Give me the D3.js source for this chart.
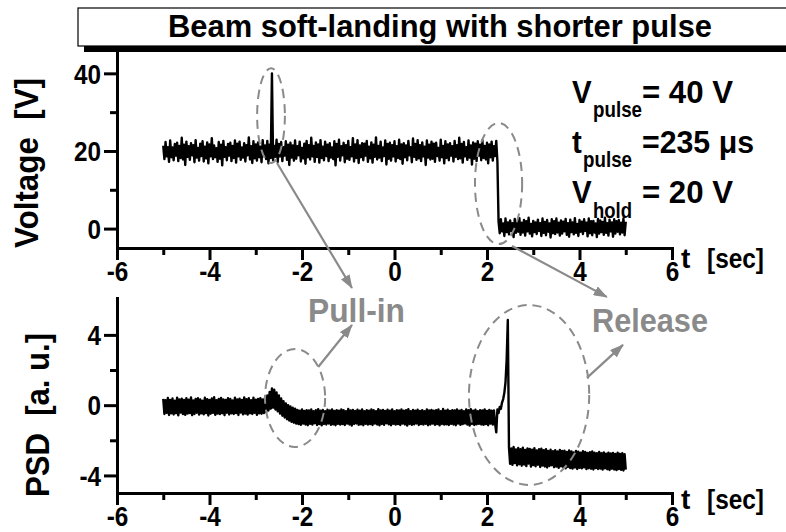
<!DOCTYPE html>
<html>
<head>
<meta charset="utf-8">
<script src="https://cdn.jsdelivr.net/npm/d3@7"></script>
<style>
  html, body { margin: 0; padding: 0; background: #fff; }
  svg { display: block; }
  text { font-family: "Liberation Sans", Arial, Helvetica, sans-serif; font-weight: bold; }
</style>
</head>
<body>
<svg id="chart" width="786" height="532"></svg>
<script>
// ---- recording grid (seconds) ----
const sampleStart = -5;      // first sample of both traces
const sampleStep = 0.025;    // spacing between samples
const holdDropTime = 2.25;   // first sample after the hold voltage is removed

// ---- drive voltage [V]: hold level with the short pull-in pulse ----
const voltageHold = [
  21.4, 17.9, 22.3, 18.6, 21.0, 17.2, 22.7, 18.4, 20.9, 17.6,
  21.8, 18.8, 22.1, 17.4, 21.3, 18.2, 23.4, 17.8, 21.6, 16.4,
  22.4, 18.5, 21.2, 17.7, 22.0, 18.9, 21.5, 17.1, 22.8, 18.3,
  20.8, 17.5, 21.9, 18.7, 22.5, 17.3, 21.1, 18.1, 22.2, 16.8,
  21.7, 18.6, 23.3, 17.9, 21.4, 18.4, 20.7, 17.2, 22.3, 18.0,
  21.6, 16.3, 22.6, 18.5, 21.0, 17.6, 21.8, 18.8, 22.1, 17.4,
  21.3, 18.2, 22.7, 17.0, 21.9, 18.6, 22.4, 17.7, 20.9, 18.3,
  22.0, 17.3, 21.5, 18.9, 23.5, 17.8, 21.2, 16.9, 22.5, 18.1,
  21.7, 17.5, 22.2, 18.4, 21.1, 17.1, 22.8, 18.7, 21.4, 17.9,
  22.6, 16.8, 21.6, 18.2, 40.0, 17.6, 21.3, 18.5, 22.9, 17.2,
  21.8, 18.6, 22.3, 17.4, 21.0, 18.8, 22.5, 17.7, 21.6, 16.4,
  22.1, 18.3, 21.4, 17.5, 22.7, 18.0, 21.2, 18.9, 22.4, 17.3,
  20.8, 18.1, 21.9, 16.7, 22.6, 18.4, 21.5, 17.8, 23.4, 18.6,
  21.3, 17.2, 22.2, 18.5, 21.7, 17.0, 22.8, 18.2, 21.1, 17.6,
  22.4, 18.7, 21.6, 17.4, 22.0, 18.3, 20.9, 17.9, 22.5, 16.3,
  21.8, 18.5, 22.9, 17.5, 21.2, 18.9, 22.1, 17.1, 21.5, 18.0,
  22.6, 17.7, 21.0, 18.6, 23.3, 17.3, 21.7, 18.2, 22.8, 16.9,
  21.4, 18.4, 22.0, 17.6, 21.9, 18.8, 22.6, 17.2, 21.1, 18.1,
  22.2, 17.0, 21.6, 18.5, 23.5, 17.8, 21.3, 18.3, 22.4, 17.4,
  20.9, 18.7, 22.7, 16.5, 21.8, 18.0, 22.1, 17.5, 21.5, 18.6,
  22.5, 17.3, 21.2, 18.2, 22.9, 17.9, 21.7, 16.7, 22.0, 18.4,
  21.4, 17.6, 22.6, 18.9, 21.0, 17.1, 23.2, 18.5, 21.8, 17.7,
  22.8, 18.1, 21.5, 17.4, 22.2, 18.6, 21.1, 16.4, 22.7, 18.3,
  21.6, 17.8, 22.4, 18.0, 21.9, 17.2, 22.1, 18.7, 20.8, 17.5,
  22.9, 18.4, 21.3, 16.8, 22.5, 18.2, 21.7, 17.6, 22.0, 18.8,
  21.2, 17.3, 22.6, 18.5, 21.5, 17.9, 23.4, 18.1, 21.8, 17.0,
  22.3, 18.6, 21.0, 17.7, 22.7, 18.3, 21.4, 16.5, 22.2, 18.0,
  21.9, 17.4, 22.5, 18.8, 21.6, 17.6, 22.8, 18.2, 21.3, 17.8,
  22.1, 16.8, 21.7, 18.4, 22.4, 17.5, 21.2, 18.7, 22.6, 17.3
];
// ---- drive voltage [V] after release ----
const voltageLow = [
  1.8, -1.2, 2.4, -0.7, 1.3, -1.9, 2.6, -0.9, 1.6, -1.5,
  2.1, -0.6, 1.4, -2.2, 2.5, -1.1, 1.7, -0.8, 2.7, -1.6,
  1.5, -1.0, 2.2, -1.8, 1.9, -0.7, 2.8, -1.3, 1.2, -2.0,
  2.0, -0.9, 1.6, -1.4, 2.3, -0.6, 1.4, -1.9, 2.6, -1.1,
  1.7, -1.7, 2.2, -0.8, 1.3, -2.3, 2.4, -1.2, 1.9, -1.4,
  2.6, -1.0, 1.5, -1.8, 2.1, -1.3, 1.8, -0.7, 2.5, -1.6,
  1.4, -2.1, 2.3, -0.9, 1.6, -1.5, 2.7, -1.1, 1.2, -1.9,
  2.2, -0.8, 1.8, -1.4, 2.4, -0.6, 1.5, -2.0, 2.6, -1.2,
  1.9, -1.7, 2.0, -1.0, 1.3, -2.2, 2.5, -1.3, 2.1, -0.9,
  1.7, -1.6, 2.8, -1.1, 1.4, -1.8, 2.3, -0.7, 1.6, -2.1,
  2.4, -1.3, 1.9, -0.8, 2.2, -1.5, 1.5, -1.0, 2.6, -1.7,
  1.8
];
// ---- position sensitive detector signal [a. u.] ----
const psdValues = [
  // before the pulse
  0.36, -0.50, 0.28, -0.44, 0.41, -0.56, 0.30, -0.47, 0.38, -0.53,
  0.25, -0.46, 0.43, -0.58, 0.33, -0.42, 0.37, -0.51, 0.29, -0.55,
  0.40, -0.48, 0.31, -0.45, 0.44, -0.57, 0.27, -0.50, 0.35, -0.43,
  0.39, -0.54, 0.32, -0.47, 0.26, -0.52, 0.42, -0.45, 0.34, -0.59,
  0.30, -0.49, 0.38, -0.44, 0.45, -0.55, 0.28, -0.48, 0.36, -0.51,
  0.41, -0.46, 0.33, -0.57, 0.29, -0.43, 0.40, -0.53, 0.35, -0.47,
  0.27, -0.50, 0.43, -0.45, 0.32, -0.56, 0.37, -0.42, 0.30, -0.52,
  0.44, -0.48, 0.34, -0.54, 0.39, -0.46, 0.28, -0.50, 0.42, -0.44,
  0.31, -0.55, 0.36, -0.47, 0.40, -0.49, 0.33, -0.45,
  // pull-in
  0.42, -0.40, 0.55, -0.30, 0.75, -0.20, 0.95, -0.15, 0.88, -0.25,
  0.72, -0.35, 0.55, -0.48, 0.38, -0.60, 0.22, -0.70, 0.10, -0.80,
  0.00, -0.88, -0.08, -0.95, -0.15, -1.00, -0.20, -1.05,
  // held down
  -0.27, -1.08, -0.31, -1.12, -0.24, -1.05, -0.33, -1.10, -0.28, -1.14,
  -0.30, -1.06, -0.25, -1.11, -0.34, -1.03, -0.29, -1.13, -0.23, -1.08,
  -0.32, -1.15, -0.27, -1.07, -0.35, -1.10, -0.26, -1.04, -0.30, -1.12,
  -0.24, -1.09, -0.33, -1.14, -0.28, -1.06, -0.31, -1.11, -0.25, -1.08,
  -0.29, -1.13, -0.34, -1.05, -0.22, -1.10, -0.30, -1.16, -0.27, -1.07,
  -0.33, -1.04, -0.26, -1.12, -0.31, -1.09, -0.24, -1.14, -0.35, -1.06,
  -0.28, -1.11, -0.32, -1.08, -0.25, -1.13, -0.29, -1.05, -0.34, -1.10,
  -0.23, -1.15, -0.30, -1.07, -0.27, -1.12, -0.33, -1.03, -0.26, -1.09,
  -0.31, -1.14, -0.24, -1.06, -0.35, -1.11, -0.28, -1.08, -0.30, -1.13,
  -0.25, -1.05, -0.32, -1.10, -0.29, -1.16, -0.23, -1.07, -0.34, -1.12,
  -0.27, -1.09, -0.31, -1.04, -0.26, -1.13, -0.33, -1.08, -0.28, -1.11,
  -0.35, -1.06, -0.24, -1.14, -0.30, -1.10, -0.27, -1.05, -0.32, -1.12,
  -0.29, -1.08, -0.25, -1.15, -0.34, -1.07, -0.22, -1.11, -0.31, -1.09,
  -0.26, -1.13, -0.33, -1.06, -0.28, -1.10, -0.30, -1.14, -0.24, -1.05,
  -0.32, -1.12, -0.27, -1.08, -0.35, -1.04, -0.25, -1.11, -0.29, -1.16,
  -0.23, -1.07, -0.31, -1.13, -0.26, -1.09, -0.34, -1.06, -0.28, -1.10,
  -0.30, -1.12, -0.24, -1.08, -0.33, -1.14, -0.27, -1.05, -0.31, -1.11,
  // release
  -0.30, -1.05, -1.55, -0.25, -0.45, -0.10, -0.20, 0.15, 0.35, 0.70,
  1.30, 2.60, 4.85,
  // after release
  -2.40, -3.34, -2.47, -3.40, -2.38, -3.30, -2.52, -3.43, -2.44, -3.36,
  -2.50, -3.45, -2.42, -3.38, -2.55, -3.47, -2.46, -3.33, -2.49, -3.50,
  -2.53, -3.41, -2.45, -3.48, -2.58, -3.39, -2.51, -3.52, -2.48, -3.44,
  -2.56, -3.49, -2.50, -3.55, -2.60, -3.46, -2.54, -3.42, -2.62, -3.53,
  -2.57, -3.50, -2.64, -3.57, -2.55, -3.48, -2.61, -3.54, -2.59, -3.60,
  -2.66, -3.52, -2.58, -3.58, -2.63, -3.61, -2.69, -3.55, -2.60, -3.63,
  -2.65, -3.57, -2.70, -3.60, -2.62, -3.54, -2.67, -3.64, -2.72, -3.59,
  -2.68, -3.62, -2.64, -3.66, -2.71, -3.58, -2.74, -3.63, -2.66, -3.61,
  -2.73, -3.67, -2.69, -3.60, -2.76, -3.65, -2.70, -3.69, -2.75, -3.62,
  -2.72, -3.66, -2.78, -3.70, -2.71, -3.64, -2.77, -3.68, -2.74, -3.72,
  -2.79, -3.67
];

// ---- ticks ----
const timeTicksMajor = [-6, -4, -2, 0, 2, 4, 6];
const timeTicksMinor = [-5, -3, -1, 1, 3, 5];
const voltTicksMajor = [0, 20, 40];
const voltTicksMinor = [10, 30];
const psdTicksMajor = [-4, 0, 4];
const psdTicksMinor = [-2, 2];

// ---- highlighted regions: centre (t, value) and half-widths ----
const voltMarks = [
  { t: -2.67, v: 29.1, rt: 0.30, rv: 12.2 },
  { t: 2.25, v: 11.6, rt: 0.51, rv: 15.6 }
];
const psdMarks = [
  { t: -2.15, v: 0.41, rt: 0.65, rv: 2.79 },
  { t: 2.91, v: 0.58, rt: 1.30, rv: 5.12 }
];
// arrows: [panel, t0, v0, t1, v1]
const arrows = [
  ["volt", -2.54, 16.9, -0.92, -15.3],
  ["psd", -1.65, 2.17, -0.92, 4.56],
  ["volt", 2.54, -4.48, 4.59, -17.6],
  ["psd", 4.16, 1.55, 4.94, 3.43]
];

const svg = d3.select("#chart");
const FONT = '"Liberation Sans", Arial, Helvetica, sans-serif';
const GREY = "#8a8a8a";

// narrow the glyphs of a text element to a fraction of its natural width
function condense(sel, k) {
  sel.each(function () {
    const w = this.getComputedTextLength();
    d3.select(this).attr("textLength", w * k).attr("lengthAdjust", "spacingAndGlyphs");
  });
}

// scales
const x = d3.scaleLinear().domain([-6, 6]).range([117, 672]);
const yVolt = d3.scaleLinear().domain([-5, 45.5]).range([248, 52]);
const yPsd = d3.scaleLinear().domain([-5, 6.1]).range([493, 298]);
const panels = { volt: yVolt, psd: yPsd };

// title box with drop shadow
svg.append("rect").attr("x", 84).attr("y", 14).attr("width", 760).attr("height", 38).attr("fill", "#000");
svg.append("rect").attr("x", 78).attr("y", 8).attr("width", 760).attr("height", 38)
  .attr("fill", "#fff").attr("stroke", "#000").attr("stroke-width", 1.2);
svg.append("text").attr("x", 168).attr("y", 37)
  .attr("font-size", 32).attr("textLength", 544).attr("lengthAdjust", "spacingAndGlyphs")
  .text("Beam soft-landing with shorter pulse");

// axes
function drawAxes(y, yMajor, yMinor, axisY, yTitle, titleX, titleY, titleLen, unitBaseline) {
  const gx = svg.append("g").attr("transform", `translate(0,${axisY})`)
    .call(d3.axisBottom(x).tickValues(timeTicksMajor).tickSize(12).tickSizeOuter(0).tickFormat(d => String(d)));
  gx.selectAll(".tick text").attr("y", 33).attr("dy", null);
  const gxm = svg.append("g").attr("transform", `translate(0,${axisY})`)
    .call(d3.axisBottom(x).tickValues(timeTicksMinor).tickSize(7).tickFormat(""));
  gxm.select(".domain").remove();

  const gy = svg.append("g").attr("transform", `translate(${x.range()[0]},0)`)
    .call(d3.axisLeft(y).tickValues(yMajor).tickSize(13).tickSizeOuter(0).tickFormat(d => String(d)));
  gy.selectAll(".tick text").attr("dy", "0.36em");
  const gym = svg.append("g").attr("transform", `translate(${x.range()[0]},0)`)
    .call(d3.axisLeft(y).tickValues(yMinor).tickSize(7).tickFormat(""));
  gym.select(".domain").remove();

  [gx, gxm, gy, gym].forEach(g => {
    g.attr("font-family", FONT).attr("font-size", 27).attr("font-weight", "bold");
    g.selectAll("line").attr("stroke", "#000").attr("stroke-width", 3);
    g.selectAll(".domain").attr("stroke", "#000").attr("stroke-width", 3).attr("stroke-linecap", "square");
    g.selectAll("text").attr("fill", "#000");
  });
  condense(gx.selectAll(".tick text"), 0.9);
  condense(gy.selectAll(".tick text"), 0.9);

  // axis titles
  svg.append("text").attr("transform", `translate(${titleX},${titleY}) rotate(-90)`)
    .attr("text-anchor", "middle").attr("font-size", 33)
    .attr("textLength", titleLen).attr("lengthAdjust", "spacingAndGlyphs")
    .attr("xml:space", "preserve").text(yTitle);
  svg.append("text").attr("x", 681).attr("y", unitBaseline).attr("font-size", 28).text("t");
  svg.append("text").attr("x", 707).attr("y", unitBaseline).attr("font-size", 28)
    .attr("textLength", 57).attr("lengthAdjust", "spacingAndGlyphs").text("[sec]");
}

drawAxes(yVolt, voltTicksMajor, voltTicksMinor, 248, "Voltage  [V]", 38, 163, 170, 268);
drawAxes(yPsd, psdTicksMajor, psdTicksMinor, 493, "PSD  [a. u.]", 49, 415, 164, 509);

// traces
const voltPoints = voltageHold.map((v, i) => ({ t: sampleStart + i * sampleStep, v }))
  .concat(voltageLow.map((v, i) => ({ t: holdDropTime + i * sampleStep, v })));
const psdPoints = psdValues.map((v, i) => ({ t: sampleStart + i * sampleStep, v }));

svg.append("path").datum(voltPoints)
  .attr("d", d3.line().x(d => x(d.t)).y(d => yVolt(d.v)))
  .attr("fill", "none").attr("stroke", "#000").attr("stroke-width", 2.4).attr("stroke-linejoin", "round");
svg.append("path").datum(psdPoints)
  .attr("d", d3.line().x(d => x(d.t)).y(d => yPsd(d.v)))
  .attr("fill", "none").attr("stroke", "#000").attr("stroke-width", 2.4).attr("stroke-linejoin", "round");

// dashed ellipses around the pull-in and release events
function ring(m, y) {
  svg.append("ellipse")
    .attr("cx", x(m.t)).attr("cy", y(m.v))
    .attr("rx", x(m.t + m.rt) - x(m.t)).attr("ry", y(m.v) - y(m.v + m.rv))
    .attr("fill", "none").attr("stroke", GREY).attr("stroke-width", 2).attr("stroke-dasharray", "9 6");
}
voltMarks.forEach(m => ring(m, yVolt));
psdMarks.forEach(m => ring(m, yPsd));

// arrows pointing at the event labels
svg.append("defs").append("marker")
  .attr("id", "head").attr("viewBox", "0 0 14 10").attr("refX", 13).attr("refY", 5)
  .attr("markerWidth", 14).attr("markerHeight", 10).attr("markerUnits", "userSpaceOnUse")
  .attr("orient", "auto")
  .append("path").attr("d", "M0,0 L14,5 L0,10 Z").attr("fill", GREY);
arrows.forEach(([p, t0, v0, t1, v1]) => {
  const y = panels[p];
  svg.append("line")
    .attr("x1", x(t0)).attr("y1", y(v0)).attr("x2", x(t1)).attr("y2", y(v1))
    .attr("stroke", GREY).attr("stroke-width", 2.2).attr("marker-end", "url(#head)");
});

svg.append("text").attr("x", 308).attr("y", 322).attr("font-size", 33).attr("fill", GREY)
  .attr("textLength", 97).attr("lengthAdjust", "spacingAndGlyphs").text("Pull-in");
svg.append("text").attr("x", 592).attr("y", 332).attr("font-size", 33).attr("fill", GREY)
  .attr("textLength", 116).attr("lengthAdjust", "spacingAndGlyphs").text("Release");

// pulse parameters
const params = [
  { main: "V", sub: "pulse", subLen: 49, rest: "= 40 V", restLen: 91, base: 103, subBase: 117, subX: 593 },
  { main: "t", sub: "pulse", subLen: 49, rest: "=235 \u03BCs", restLen: 112, base: 153, subBase: 167, subX: 583 },
  { main: "V", sub: "hold", subLen: 39, rest: "= 20 V", restLen: 91, base: 203, subBase: 218, subX: 593 }
];
params.forEach(p => {
  const m = svg.append("text").attr("x", 572).attr("y", p.base).attr("font-size", 32).text(p.main);
  condense(m, 0.92);
  svg.append("text").attr("x", p.subX).attr("y", p.subBase).attr("font-size", 22)
    .attr("textLength", p.subLen).attr("lengthAdjust", "spacingAndGlyphs").text(p.sub);
  svg.append("text").attr("x", 642).attr("y", p.base).attr("font-size", 32)
    .attr("textLength", p.restLen).attr("lengthAdjust", "spacingAndGlyphs")
    .attr("xml:space", "preserve").text(p.rest);
});
</script>
</body>
</html>
